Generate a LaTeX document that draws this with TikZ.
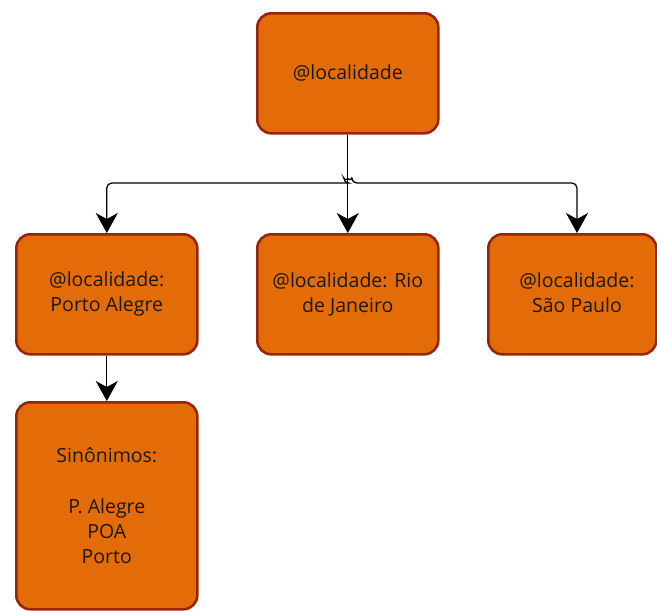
\documentclass[tikz,border=0pt]{standalone}
\usepackage{fontspec}
\setmainfont{Open Sans}
\usetikzlibrary{arrows.meta}
\definecolor{boxfill}{RGB}{227,108,9}
\definecolor{boxline}{RGB}{150,38,10}
\definecolor{inkcol}{RGB}{28,24,10}
\begin{document}
\begin{tikzpicture}[x=1pt,y=-1pt,
  cardbox/.style={draw=boxline,fill=boxfill,line width=2.6pt,rounded corners=14pt,
    anchor=north west,inner sep=0pt},
  cardtext/.style={text=inkcol,align=center,font=\fontsize{19.5}{25}\selectfont},
  link/.style={draw=black,line width=1.3pt,rounded corners=5pt},
  tip/.style={-{Stealth[length=20pt,width=22pt,inset=6pt]}}]
\useasboundingbox (0,0) rectangle (657,611);
% boxes
\node[cardbox,minimum width=181pt,minimum height=120pt] (root) at (256,12) {};
\node[cardbox,minimum width=181pt,minimum height=120pt] (poa) at (15,233) {};
\node[cardbox,minimum width=181pt,minimum height=120pt] (rio) at (256,233) {};
\node[cardbox,minimum width=168pt,minimum height=120pt] (sp) at (487,233) {};
\node[cardbox,minimum width=181pt,minimum height=207pt] (syn) at (15,401) {};
% labels
\node[cardtext] (rootlbl) at (root.center) {@localidade};
\node[cardtext] (poalbl) at (poa.center) {@localidade:\\Porto Alegre};
\node[cardtext] (riolbl) at (rio.center) {@localidade: Rio\\de Janeiro};
\node[cardtext] (splbl) at (577,293) {@localidade:\\São Paulo};
\node[cardtext] (synlbl) at (syn.center) {Sinônimos:\\[26pt]P. Alegre\\POA\\Porto};
% connectors
\coordinate (bus) at (root.south |- 0,183);
\coordinate (spin) at (577,233);
\draw[link] (root.south) -- (bus);
\draw[link,tip] (bus) -- (bus -| poa.north) -- (poa.north);
\draw[link,tip] (bus) -- ([xshift=-4pt]bus)
  arc[start angle=180,end angle=0,radius=4pt] -- (bus -| spin) -- (spin);
\draw[link,tip] (bus) -- (rio.north);
\draw[link,tip] (poa.south) -- (syn.north);
\end{tikzpicture}
\end{document}
